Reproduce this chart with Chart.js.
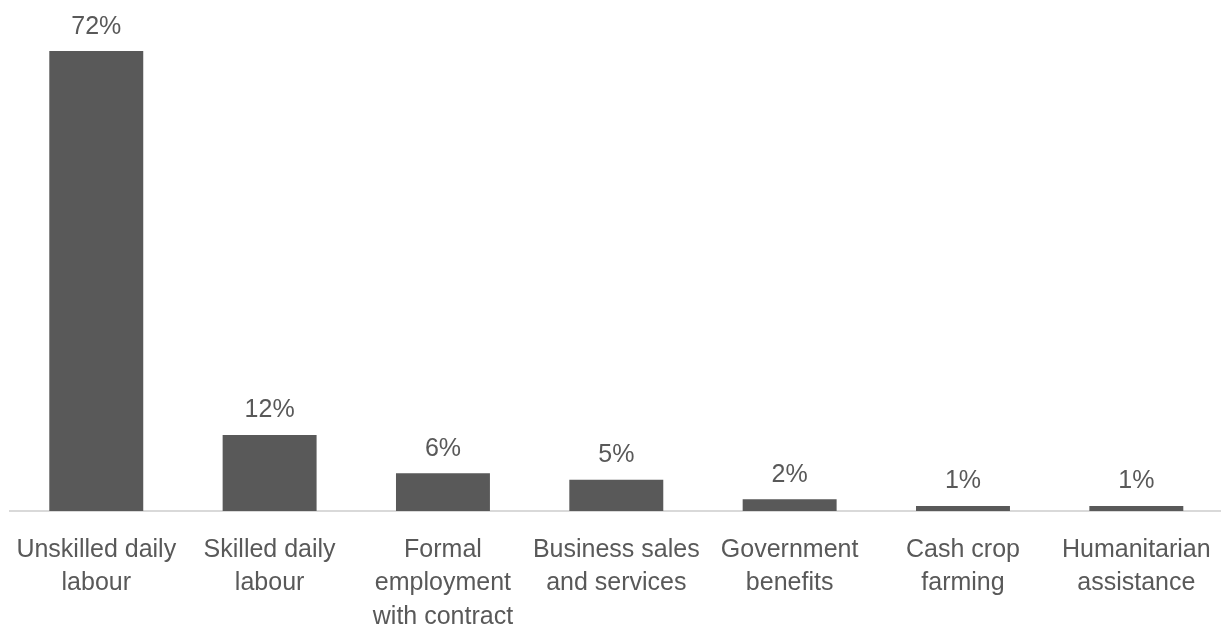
<!DOCTYPE html>
<html>
<head>
<meta charset="utf-8">
<script src="https://cdn.jsdelivr.net/npm/chart.js@4"></script>
<style>
  html, body { margin: 0; padding: 0; background: #ffffff; overflow: hidden; }
  #wrap { width: 1221px; height: 628px; overflow: hidden; }
  canvas { display: block; }
</style>
</head>
<body>
<div id="wrap"><canvas id="c" width="1223" height="628"></canvas></div>
<script>
const categories = [
  ["Unskilled daily", "labour"],
  ["Skilled daily", "labour"],
  ["Formal", "employment", "with contract"],
  ["Business sales", "and services"],
  ["Government", "benefits"],
  ["Cash crop", "farming"],
  ["Humanitarian", "assistance"]
];
const values = [72.0, 11.9, 5.9, 4.9, 1.85, 0.8, 0.8];
const valueLabels = ["72%", "12%", "6%", "5%", "2%", "1%", "1%"];

const FONT = "'Liberation Sans', Arial, sans-serif";
const TEXT = "#595959";

const valueLabelPlugin = {
  id: 'valueLabels',
  afterDatasetsDraw(chart) {
    const ctx = chart.ctx;
    const meta = chart.getDatasetMeta(0);
    ctx.save();
    ctx.font = "25px " + FONT;
    ctx.fillStyle = TEXT;
    ctx.textAlign = 'center';
    ctx.textBaseline = 'alphabetic';
    meta.data.forEach((bar, i) => {
      ctx.fillText(valueLabels[i], bar.x, bar.y - 17.5);
    });
    ctx.restore();
  }
};

new Chart(document.getElementById('c'), {
  type: 'bar',
  data: {
    labels: categories,
    datasets: [{
      data: values,
      backgroundColor: '#595959',
      borderWidth: 0,
      barPercentage: 0.542,
      categoryPercentage: 1.0
    }]
  },
  options: {
    responsive: false,
    animation: false,
    devicePixelRatio: 1,
    layout: { padding: { left: 9.6, right: 0, top: 0, bottom: 0 } },
    plugins: { legend: { display: false }, tooltip: { enabled: false } },
    scales: {
      x: {
        grid: { display: false, drawTicks: false },
        border: { display: true, color: '#d9d9d9', width: 2 },
        ticks: {
          color: TEXT,
          font: { family: FONT, size: 25, lineHeight: 1.34 },
          padding: 22,
          maxRotation: 0,
          autoSkip: false
        },
        afterFit(scale) {
          scale.height = 117;
          scale.paddingLeft = 0;
          scale.paddingRight = 0;
        }
      },
      y: {
        display: false,
        min: 0,
        max: 80
      }
    }
  },
  plugins: [valueLabelPlugin]
});
</script>
</body>
</html>
